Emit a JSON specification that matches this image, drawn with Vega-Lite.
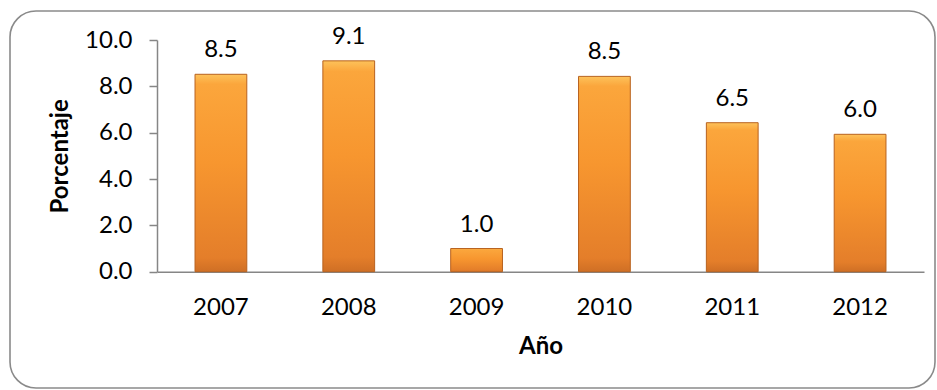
{
  "$schema": "https://vega.github.io/schema/vega-lite/v6.json",
  "autosize": {"type": "none"},
  "padding": {"left": 10, "top": 11, "right": 1, "bottom": 1},
  "width": 925,
  "height": 377,
  "background": "#ffffff",
  "config": {
    "view": {"stroke": "#8a8a8a", "strokeWidth": 1.6, "cornerRadius": 26},
    "font": "Lato"
  },
  "data": {
    "values": [
      {"anio": "2007", "porcentaje": 8.52, "etiqueta": "8.5"},
      {"anio": "2008", "porcentaje": 9.1, "etiqueta": "9.1"},
      {"anio": "2009", "porcentaje": 1.0, "etiqueta": "1.0"},
      {"anio": "2010", "porcentaje": 8.43, "etiqueta": "8.5"},
      {"anio": "2011", "porcentaje": 6.43, "etiqueta": "6.5"},
      {"anio": "2012", "porcentaje": 5.93, "etiqueta": "6.0"}
    ]
  },
  "encoding": {
    "x": {
      "field": "anio",
      "type": "nominal",
      "sort": null,
      "scale": {"range": [147, 914], "paddingInner": 0.595, "paddingOuter": 0.2975},
      "axis": {
        "title": "Año",
        "titleFont": "Lato",
        "titleFontSize": 24,
        "titleFontWeight": "bold",
        "titleColor": "#000000",
        "titlePadding": 15,
        "labelAngle": 0,
        "labelFont": "Lato",
        "labelFontSize": 24,
        "labelColor": "#000000",
        "labelPadding": 24,
        "ticks": false,
        "domainColor": "#868686",
        "domainWidth": 1.5,
        "offset": -116.3
      }
    },
    "y": {
      "field": "porcentaje",
      "type": "quantitative",
      "scale": {"domain": [0, 10], "range": [260.7, 29], "nice": false, "zero": true},
      "axis": {
        "title": "Porcentaje",
        "titleFont": "Lato",
        "titleFontSize": 24,
        "titleFontWeight": "bold",
        "titleColor": "#000000",
        "titlePadding": 12,
        "values": [0, 2, 4, 6, 8, 10],
        "format": ".1f",
        "grid": false,
        "labelFont": "Lato",
        "labelFontSize": 24,
        "labelColor": "#000000",
        "labelPadding": 17,
        "tickSize": 8,
        "tickColor": "#868686",
        "tickWidth": 1.5,
        "domainColor": "#868686",
        "domainWidth": 1.5,
        "offset": -147
      }
    }
  },
  "layer": [
    {
      "mark": {
        "type": "bar",
        "stroke": "#b8621f",
        "strokeWidth": 1,
        "color": {
          "gradient": "linear",
          "x1": 0, "y1": 0, "x2": 0, "y2": 1,
          "stops": [
            {"offset": 0, "color": "#fdc25a"},
            {"offset": 0.05, "color": "#fba63c"},
            {"offset": 0.45, "color": "#f7962f"},
            {"offset": 0.93, "color": "#e47e2a"},
            {"offset": 1, "color": "#cf6f25"}
          ]
        }
      }
    },
    {
      "mark": {
        "type": "text",
        "font": "Lato",
        "fontSize": 24,
        "color": "#000000",
        "baseline": "alphabetic",
        "dy": -17
      },
      "encoding": {
        "text": {"field": "etiqueta", "type": "nominal"}
      }
    }
  ]
}
